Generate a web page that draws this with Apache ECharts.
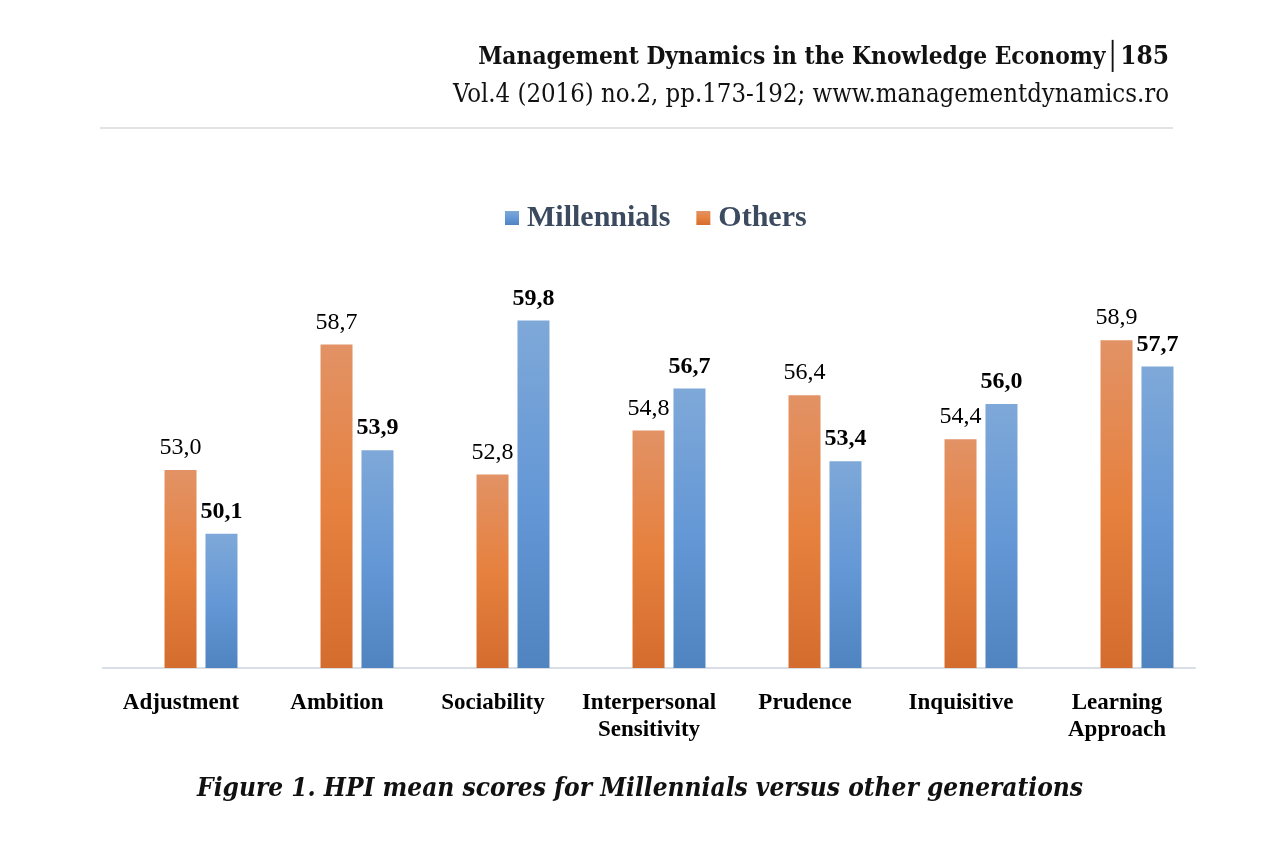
<!DOCTYPE html>
<html>
<head>
<meta charset="utf-8">
<script src="https://cdn.jsdelivr.net/npm/echarts@6/dist/echarts.min.js"></script>
<style>
  html, body { margin: 0; padding: 0; background: #fff; }
  #main { width: 1280px; height: 843px; }
</style>
</head>
<body>
<div id="main"></div>
<script>
var categories = ['Adjustment', 'Ambition', 'Sociability', 'Interpersonal\nSensitivity',
                  'Prudence', 'Inquisitive', 'Learning\nApproach'];
var others      = [53.0, 58.7, 52.8, 54.8, 56.4, 54.4, 58.9];
var millennials = [50.1, 53.9, 59.8, 56.7, 53.4, 56.0, 57.7];

function fmt(p) {   // 53.0 -> "53,0"
    return p.value.toFixed(1).replace('.', ',');
}

function grad(top, mid, bottom) {
    return new echarts.graphic.LinearGradient(0, 0, 0, 1, [
        {offset: 0, color: top},
        {offset: 0.5, color: mid},
        {offset: 1, color: bottom}
    ]);
}

var serif = '"Liberation Serif", "Times New Roman", serif';
var cond = '"DejaVu Serif Condensed", "DejaVu Serif", serif';

var myChart = echarts.init(document.getElementById('main'));

var option = {
    backgroundColor: '#fff',
    animation: false,
    title: [
        {
            text: '{a|Management Dynamics in the Knowledge Economy}{b|│}{c|185}',
            right: 106,
            top: 39,
            textStyle: {
                rich: {
                    a: {fontFamily: cond, fontWeight: 'bold', fontSize: 24.3, color: '#111'},
                    b: {fontFamily: cond, fontSize: 27, color: '#111'},
                    c: {fontFamily: cond, fontWeight: 'bold', fontSize: 26, color: '#111'}
                }
            }
        },
        {
            text: 'Vol.4 (2016) no.2, pp.173-192; www.managementdynamics.ro',
            right: 106,
            top: 77,
            textStyle: {fontFamily: cond, fontWeight: 'normal', fontSize: 25.5, color: '#111'}
        },
        {
            text: 'Figure 1. HPI mean scores for Millennials versus other generations',
            left: 'center',
            top: 771,
            textStyle: {fontFamily: cond, fontWeight: 'bold', fontStyle: 'italic', fontSize: 26, color: '#111'}
        }
    ],
    graphic: [{
        type: 'line',
        shape: {x1: 100, y1: 128, x2: 1173, y2: 128},
        style: {stroke: '#e3e3e3', lineWidth: 2}
    }],
    legend: {
        data: ['Millennials', 'Others'],
        left: 500,
        top: 198,
        icon: 'rect',
        itemWidth: 14,
        itemHeight: 14,
        itemGap: 26,
        textStyle: {
            fontFamily: serif,
            fontWeight: 'bold',
            fontSize: 30,
            color: '#3b4a5f',
            padding: [0, 0, 0, 3]
        }
    },
    grid: [
        {left: 103, width: 1092, top: 272, bottom: 175},   // labels and axis line
        {left: 123, width: 1092, top: 272, bottom: 175}    // bars
    ],
    xAxis: [
        {
            gridIndex: 0,
            type: 'category',
            data: categories,
            axisLine: {lineStyle: {color: '#d9dde6', width: 2}},
            axisTick: {show: false},
            axisLabel: {
                margin: 22,
                fontFamily: serif,
                fontWeight: 'bold',
                fontSize: 23,
                lineHeight: 27,
                color: '#000',
                interval: 0
            }
        },
        {
            gridIndex: 1,
            type: 'category',
            data: categories,
            show: false
        }
    ],
    yAxis: [
        {gridIndex: 0, type: 'value', min: 44, max: 62, show: false},
        {gridIndex: 1, type: 'value', min: 44, max: 62, show: false}
    ],
    series: [
        {
            name: 'Others',
            type: 'bar',
            xAxisIndex: 1,
            yAxisIndex: 1,
            barWidth: 32,
            barGap: '28%',
            data: others,
            itemStyle: {color: grad('#e29265', '#e6813f', '#d46c2e')},
            label: {
                show: true,
                position: 'top',
                distance: 10,
                formatter: fmt,
                fontFamily: serif,
                fontSize: 24,
                color: '#000'
            }
        },
        {
            name: 'Millennials',
            type: 'bar',
            xAxisIndex: 1,
            yAxisIndex: 1,
            barWidth: 32,
            data: millennials,
            itemStyle: {color: grad('#7ea8d8', '#6598d6', '#5084c1')},
            label: {
                show: true,
                position: 'top',
                distance: 10,
                formatter: fmt,
                fontFamily: serif,
                fontWeight: 'bold',
                fontSize: 24,
                color: '#000'
            }
        }
    ]
};

myChart.setOption(option);
</script>
</body>
</html>
